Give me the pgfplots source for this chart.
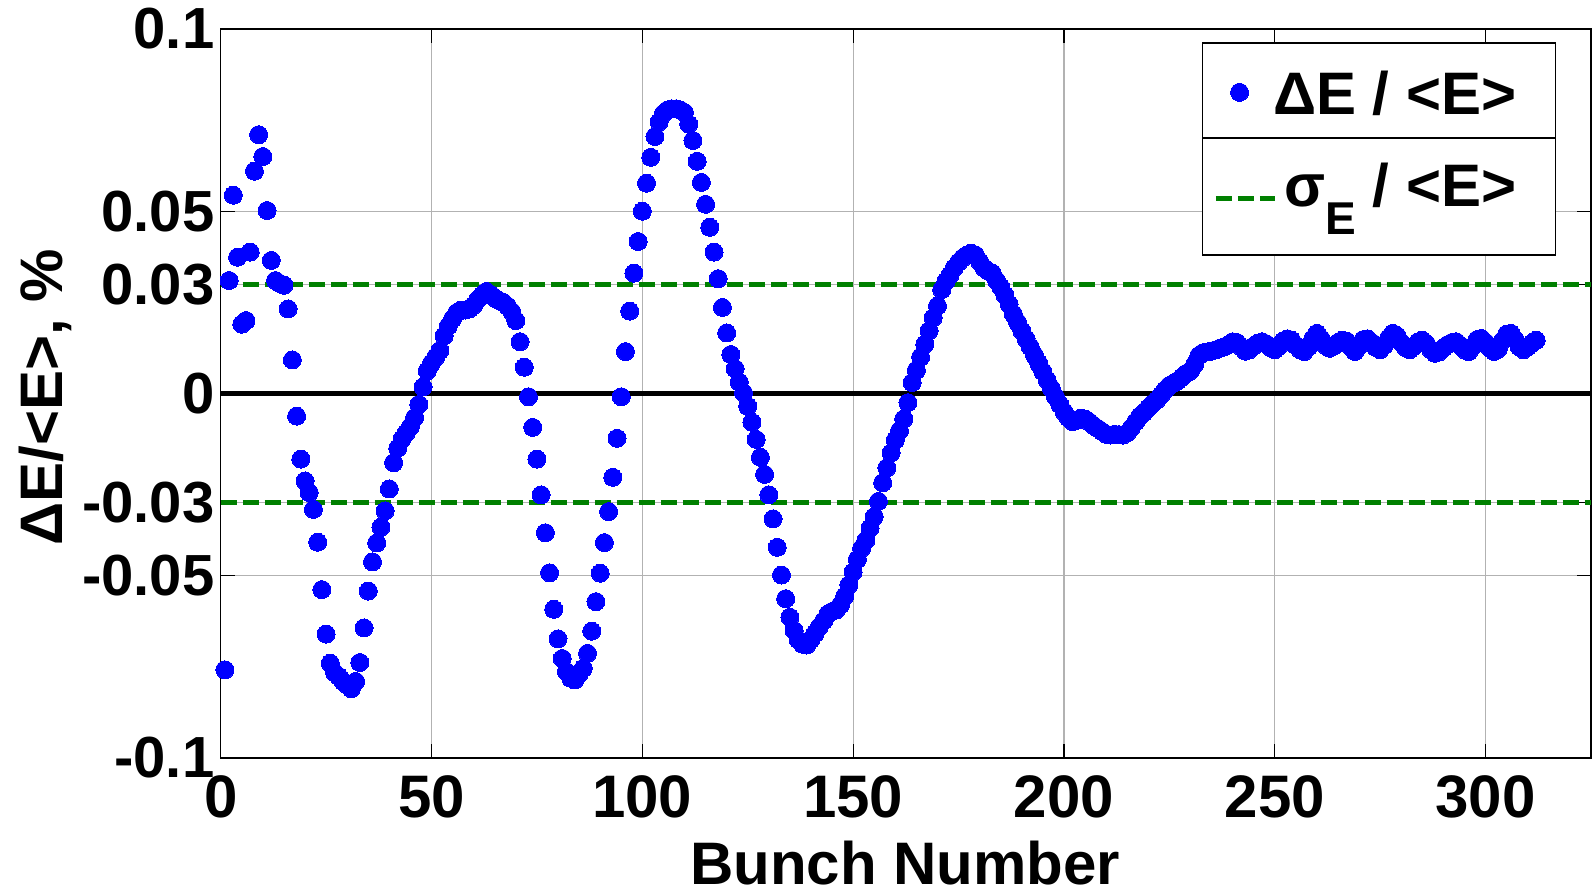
\documentclass[border=0pt]{standalone}
\usepackage{pgfplots}
\pgfplotsset{compat=1.18}
\usepackage{pgfplotstable}
\usepackage{fontspec}
\setmainfont{Liberation Sans}

\definecolor{dotblue}{RGB}{0,0,255}
\definecolor{sigmagreen}{RGB}{0,128,0}

% legend symbols: a single dot, and a short dashed segment
\pgfplotsset{
  dotlegend/.style={legend image code/.code={\draw[mark repeat=2,mark phase=2,##1] plot coordinates {(0pt,0pt) (11.85pt,0pt) (29.5pt,0pt)};}},
  dashlegend/.style={legend image code/.code={\draw[##1] (0pt,0pt) -- (29.5pt,0pt);}},
}

% relative energy deviation of each bunch, in %
\pgfplotstableread{
n dE
1 -0.0758
2 0.0310
3 0.0544
4 0.0374
5 0.0190
6 0.0200
7 0.0388
8 0.0610
9 0.0710
10 0.0650
11 0.0502
12 0.0365
13 0.0310
14 0.0302
15 0.0297
16 0.0232
17 0.0092
18 -0.0062
19 -0.0180
20 -0.0240
21 -0.0272
22 -0.0318
23 -0.0408
24 -0.0538
25 -0.0660
26 -0.0740
27 -0.0766
28 -0.0776
29 -0.0790
30 -0.0800
31 -0.0810
32 -0.0790
33 -0.0738
34 -0.0643
35 -0.0542
36 -0.0462
37 -0.0410
38 -0.0367
39 -0.0322
40 -0.0262
41 -0.0190
42 -0.0150
43 -0.0125
44 -0.0108
45 -0.0091
46 -0.0066
47 -0.0030
48 0.0018
49 0.0062
50 0.0083
51 0.0100
52 0.0118
53 0.0158
54 0.0185
55 0.0205
56 0.0222
57 0.0229
58 0.0229
59 0.0232
60 0.0242
61 0.0258
62 0.0270
63 0.0280
64 0.0272
65 0.0262
66 0.0255
67 0.0250
68 0.0240
69 0.0225
70 0.0200
71 0.0142
72 0.0072
73 -0.0009
74 -0.0093
75 -0.0180
76 -0.0278
77 -0.0382
78 -0.0492
79 -0.0592
80 -0.0673
81 -0.0727
82 -0.0763
83 -0.0781
84 -0.0786
85 -0.0770
86 -0.0754
87 -0.0713
88 -0.0652
89 -0.0571
90 -0.0493
91 -0.0409
92 -0.0324
93 -0.0230
94 -0.0123
95 -0.0009
96 0.0115
97 0.0226
98 0.0330
99 0.0417
100 0.0500
101 0.0577
102 0.0648
103 0.0705
104 0.0745
105 0.0768
106 0.0778
107 0.0781
108 0.0781
109 0.0778
110 0.0771
111 0.0739
112 0.0694
113 0.0637
114 0.0579
115 0.0519
116 0.0456
117 0.0388
118 0.0315
119 0.0236
120 0.0166
121 0.0107
122 0.0068
123 0.0031
124 0.0002
125 -0.0035
126 -0.0079
127 -0.0126
128 -0.0175
129 -0.0222
130 -0.0278
131 -0.0344
132 -0.0422
133 -0.0498
134 -0.0563
135 -0.0614
136 -0.0650
137 -0.0676
138 -0.0688
139 -0.0690
140 -0.0675
141 -0.0658
142 -0.0640
143 -0.0624
144 -0.0605
145 -0.0598
146 -0.0594
147 -0.0580
148 -0.0556
149 -0.0525
150 -0.0490
151 -0.0455
152 -0.0425
153 -0.0403
154 -0.0370
155 -0.0338
156 -0.0296
157 -0.0245
158 -0.0204
159 -0.0163
160 -0.0128
161 -0.0102
162 -0.0070
163 -0.0025
164 0.0030
165 0.0064
166 0.0100
167 0.0135
168 0.0172
169 0.0208
170 0.0240
171 0.0285
172 0.0308
173 0.0325
174 0.0345
175 0.0360
176 0.0372
177 0.0380
178 0.0385
179 0.0380
180 0.0362
181 0.0345
182 0.0336
183 0.0330
184 0.0310
185 0.0292
186 0.0270
187 0.0245
188 0.0218
189 0.0195
190 0.0172
191 0.0150
192 0.0128
193 0.0105
194 0.0083
195 0.0060
196 0.0037
197 0.0014
198 -0.0009
199 -0.0030
200 -0.0050
201 -0.0066
202 -0.0077
203 -0.0074
204 -0.0068
205 -0.0070
206 -0.0078
207 -0.0088
208 -0.0096
209 -0.0104
210 -0.0112
211 -0.0114
212 -0.0112
213 -0.0113
214 -0.0114
215 -0.0108
216 -0.0094
217 -0.0078
218 -0.0062
219 -0.0052
220 -0.0040
221 -0.0028
222 -0.0018
223 -0.0005
224 0.0010
225 0.0022
226 0.0028
227 0.0035
228 0.0045
229 0.0055
230 0.0062
231 0.0080
232 0.0104
233 0.0112
234 0.0114
235 0.0116
236 0.0120
237 0.0124
238 0.0128
239 0.0134
240 0.0142
241 0.0140
242 0.0128
243 0.0116
244 0.0120
245 0.0130
246 0.0138
247 0.0142
248 0.0136
249 0.0126
250 0.0120
251 0.0130
252 0.0144
253 0.0150
254 0.0146
255 0.0132
256 0.0120
257 0.0115
258 0.0128
259 0.0150
260 0.0165
261 0.0150
262 0.0132
263 0.0124
264 0.0130
265 0.0140
266 0.0146
267 0.0144
268 0.0128
269 0.0115
270 0.0130
271 0.0148
272 0.0150
273 0.0140
274 0.0126
275 0.0120
276 0.0132
277 0.0152
278 0.0165
279 0.0158
280 0.0140
281 0.0126
282 0.0120
283 0.0130
284 0.0142
285 0.0146
286 0.0136
287 0.0120
288 0.0110
289 0.0114
290 0.0125
291 0.0134
292 0.0140
293 0.0142
294 0.0132
295 0.0120
296 0.0115
297 0.0130
298 0.0148
299 0.0151
300 0.0140
301 0.0125
302 0.0115
303 0.0122
304 0.0145
305 0.0163
306 0.0165
307 0.0148
308 0.0128
309 0.0120
310 0.0128
311 0.0138
312 0.0146
}\bunchdata

\begin{document}
\begin{tikzpicture}
\begin{axis}[
  name=ax,
  scale only axis,
  width=685.15pt, height=364.5pt,
  xmin=0, xmax=325, ymin=-0.1, ymax=0.1,
  xtick={0,50,100,150,200,250,300},
  xticklabels={0,50,100,150,200,250,300},
  ytick={-0.1,-0.05,-0.03,0,0.03,0.05,0.1},
  yticklabels={-0.1,-0.05,-0.03,0,0.03,0.05,0.1},
  tick align=inside,
  major tick length=7pt,
  every tick/.style={black, line width=0.6pt},
  axis line style={black, line width=0.7pt},
  grid=major,
  major grid style={gray!60, line width=0.6pt},
  xticklabel style={font=\bfseries\fontsize{30}{36}\selectfont, anchor=north, inner sep=0pt, yshift=-8.5pt},
  yticklabel style={font=\bfseries\fontsize{29}{35}\selectfont, anchor=east, inner sep=0pt, xshift=-3pt},
  xlabel={Bunch Number},
  ylabel={ΔE/<E>, \%},
  xlabel style={font=\bfseries\fontsize{30}{36}\selectfont, at={(rel axis cs:0.4994,-0.1742)}, anchor=base, inner sep=0pt},
  ylabel style={font=\bfseries\fontsize{30}{36}\selectfont, at={(rel axis cs:-0.1152,0.495)}, anchor=base, inner sep=0pt},
  legend style={at={(0.9745,0.982)}, anchor=north east,
    draw=black, line width=0.7pt, fill=white,
    inner xsep=5.5pt, inner ysep=0pt, row sep=0pt, column sep=0pt,
    nodes={inner sep=0pt, font=\bfseries\fontsize{30}{36}\selectfont}},
  legend cell align=right,
]
% bunch-by-bunch energy offsets
\addplot[only marks, mark=*, mark size=4.5pt, color=dotblue,
  mark options={line width=0pt, fill=dotblue}, dotlegend]
  table[x=n, y=dE] {\bunchdata};
\addlegendentry{\makebox[119.5pt][r]{\raisebox{12.3pt}{\rule[-12.3pt]{0pt}{48pt}ΔE / <E>}}\hspace*{14pt}}
% rms energy spread band
\addplot[sigmagreen, line width=2.5pt, dash pattern=on 8pt off 3pt, dashlegend]
  coordinates {(0,0.03) (325,0.03)};
\addlegendentry{\makebox[119.5pt][r]{\raisebox{22.5pt}{\rule[-22.5pt]{0pt}{55pt}σ\raisebox{-14pt}{\fontsize{23}{26}\selectfont E} / <E>}}\hspace*{14pt}}
\addplot[sigmagreen, line width=2.5pt, dash pattern=on 8pt off 3pt, forget plot]
  coordinates {(0,-0.03) (325,-0.03)};
% zero reference
\addplot[black, line width=2.5pt, forget plot] coordinates {(0,0) (325,0)};
\end{axis}
% separator between the two legend rows
\draw[black, line width=0.7pt] ([xshift=490.7pt, yshift=309.9pt]ax.south west) -- ([xshift=667.7pt, yshift=309.9pt]ax.south west);
\pgfresetboundingbox
\path ([xshift=-110.35pt, yshift=-65pt]ax.south west) rectangle ([xshift=685.65pt, yshift=379pt]ax.south west);
\end{tikzpicture}
\end{document}
